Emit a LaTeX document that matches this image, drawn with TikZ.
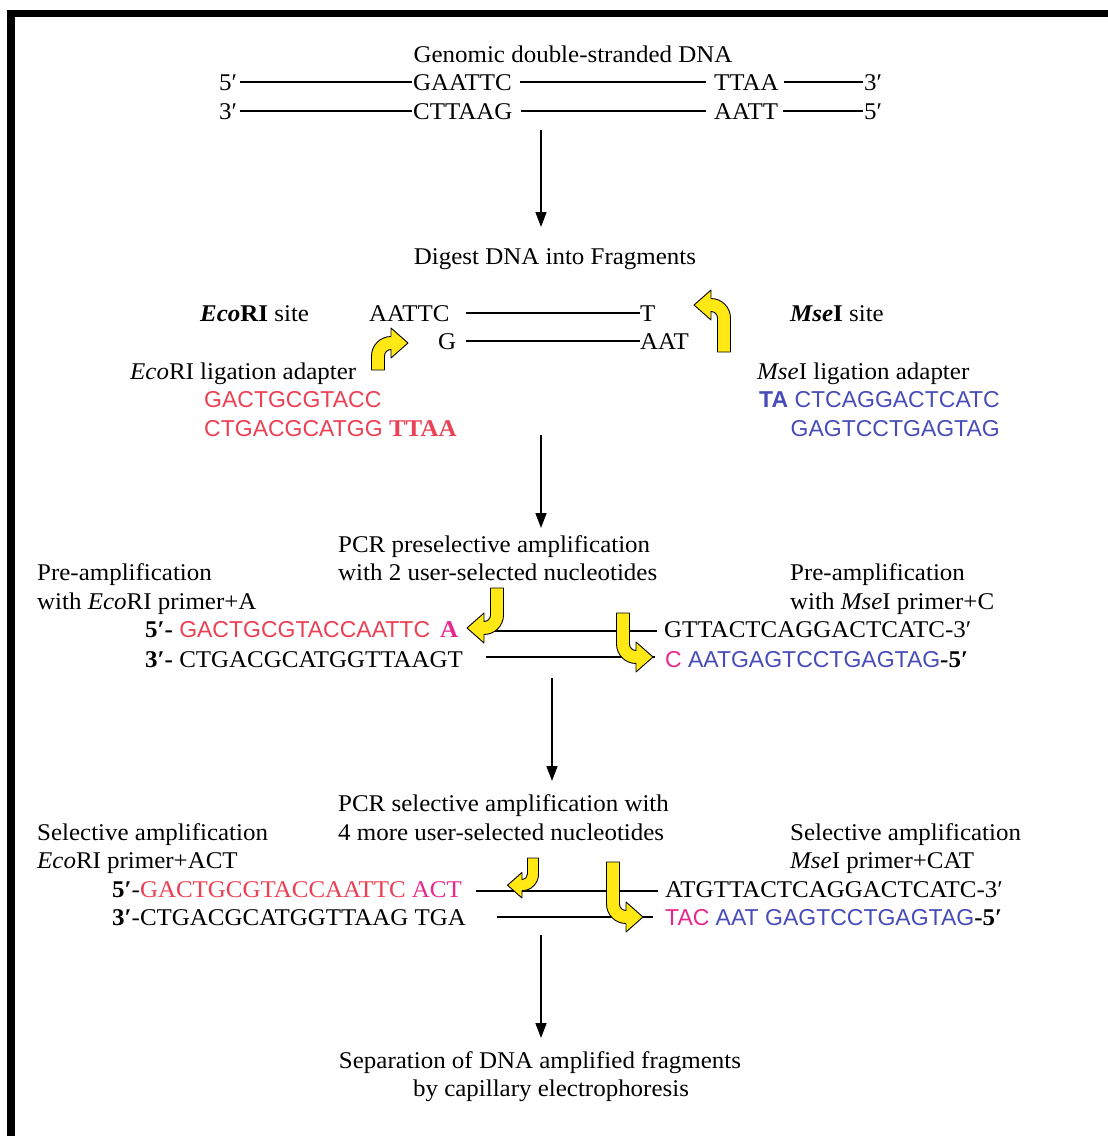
\documentclass[tikz,border=0pt]{standalone}
\usepackage{fontspec}
\setmainfont{Liberation Serif}[FakeStretch=1.04]
\setsansfont{Liberation Sans}
\usetikzlibrary{arrows.meta,calc}
\definecolor{seqred}{RGB}{236,64,84}
\definecolor{seqpink}{RGB}{232,40,140}
\definecolor{seqblue}{RGB}{72,76,184}
\definecolor{ayellow}{RGB}{255,232,20}
\newcommand\fs{\fontsize{24}{28}\selectfont}
\newcommand\sq{\fontsize{23}{28}\sffamily\selectfont}
\begin{document}
\begin{tikzpicture}[x=1pt,y=-1pt,
  t/.style={inner sep=0pt,anchor=base west,font=\fs},
  tc/.style={t,anchor=base},
  tr/.style={t,anchor=base east},
  strand/.style={line width=1.2pt},
  flow/.style={line width=1.5pt,-{Triangle[width=11pt,length=15pt]}},
  pics/bent/.style={code={
    \filldraw[fill=ayellow,draw=black,line width=0.9pt,line join=round]
      (-6.5,0) -- (6.5,0) -- (6.5,#1)
      .. controls (6.5,#1+10.77) and (-2.23,#1+19.5) .. (-13,#1+19.5)
      -- (-13,#1+28) -- (-30,#1+13) -- (-13,#1-2) -- (-13,#1+6.5)
      .. controls (-9.41,#1+6.5) and (-6.5,#1+3.59) .. (-6.5,#1) -- cycle;
  }}]
\useasboundingbox (0,0) rectangle (1108,1136);
\fill[white] (0,0) rectangle (1108,1136);
% frame
\fill[black] (7,10) rectangle (1108,17);
\fill[black] (7,10) rectangle (15,1136);

% ---------- genomic DNA ----------
\node[tc] (title) at (573,62) {Genomic double-stranded DNA};
\node[t] (r1a) at (219,90) {5′};
\node[t] (r1b) at (413,90) {GAATTC};
\node[t] (r1c) at (714,90) {TTAA};
\node[t] (r1d) at (864,90) {3′};
\node[t] (r2a) at (219,119) {3′};
\node[t] (r2b) at (413,119) {CTTAAG};
\node[t] (r2c) at (714,119) {AATT};
\node[t] (r2d) at (864,119) {5′};
\coordinate (y1) at (0,82);
\coordinate (y2) at (0,111);
\draw[strand] ($(r1a.east|-y1)+(3,0)$) -- ($(r1b.west|-y1)+(-1,0)$);
\draw[strand] ($(r1b.east|-y1)+(8,0)$) -- ($(r1c.west|-y1)+(-8,0)$);
\draw[strand] ($(r1c.east|-y1)+(5,0)$) -- ($(r1d.west|-y1)+(-1,0)$);
\draw[strand] ($(r2a.east|-y2)+(3,0)$) -- ($(r2b.west|-y2)+(-1,0)$);
\draw[strand] ($(r2b.east|-y2)+(8,0)$) -- ($(r2c.west|-y2)+(-8,0)$);
\draw[strand] ($(r2c.east|-y2)+(5,0)$) -- ($(r2d.west|-y2)+(-1,0)$);

\coordinate (v1a) at (541,130);
\coordinate (v1b) at (541,227);
\draw[flow] (v1a) -- (v1b);

% ---------- digestion ----------
\node[tc] (digest) at (555,264) {Digest DNA into Fragments};
\node[t] (ecosite) at (200,321) {\textbf{\textit{Eco}RI} site};
\node[t] (aattc) at (369,321) {AATTC};
\node[t] (tt) at (640,321) {T};
\node[t] (msesite) at (790,321) {\textbf{\textit{Mse}I} site};
\node[t] (gg) at (438,349) {G};
\node[t] (aat) at (640,349) {AAT};
\coordinate (y3) at (0,313);
\coordinate (y4) at (0,341);
\coordinate (ls) at (466,0);
\draw[strand] (ls|-y3) -- (tt.west|-y3);
\draw[strand] (ls|-y4) -- (aat.west|-y4);

\node[t] (ecoadapt) at (130,379) {\textit{Eco}RI ligation adapter};
\node[t] (mseadapt) at (757,379) {\textit{Mse}I ligation adapter};
\node[t] (ea1) at (204,407) {\sq\color{seqred}GACTGCGTACC};
\node[t] (ea2) at (204,436) {\sq\color{seqred}CTGACGCATGG {\rmfamily\fs\bfseries TTAA}};
\node[tr] (ma1) at (1000,407) {\sq\color{seqblue}\textbf{TA} CTCAGGACTCATC};
\node[tr] (ma2) at (1000,436) {\sq\color{seqblue}GAGTCCTGAGTAG};

\pic[xscale=-1,yscale=-1] at (378,370) {bent=14};
\pic[yscale=-1] at (724,352) {bent=34};

\coordinate (v2a) at (541,435);
\coordinate (v2b) at (541,528);
\draw[flow] (v2a) -- (v2b);

% ---------- preselective ----------
\node[t] (pcr1a) at (338,552) {PCR preselective amplification};
\node[t] (pcr1b) at (338,580) {with 2 user-selected nucleotides};
\node[t] (pl1) at (37,580) {Pre-amplification};
\node[t] (pl2) at (37,609) {with \textit{Eco}RI primer+A};
\node[t] (pr1) at (790,580) {Pre-amplification};
\node[t] (pr2) at (790,609) {with \textit{Mse}I primer+C};
\node[t] (p5) at (145,637) {\textbf{5′-} {\sq\color{seqred}GACTGCGTACCAATTC}\hspace{10pt}{\bfseries\color{seqpink}A}};
\node[t] (p3) at (145,667) {\textbf{3′-} CTGACGCATGGTTAAGT};
\node[t] (q5) at (664,637) {GTTACTCAGGACTCATC-3′};
\node[t] (q3) at (665,667) {{\sq\color{seqpink}C} {\sq\color{seqblue}AATGAGTCCTGAGTAG}\textbf{-5′}};
\coordinate (y5) at (0,631);
\coordinate (y6) at (0,657);
\draw[strand] ($(p5.east|-y5)+(26,0)$) -- ($(q5.west|-y5)+(-7,0)$);
\draw[strand] ($(p3.east|-y6)+(23,0)$) -- ($(q3.west|-y6)+(-10,0)$);
\pic at (497,588) {bent=27};
\pic[xscale=-1] at (623,613) {bent=31};

\coordinate (v3a) at (552,678);
\coordinate (v3b) at (552,781);
\draw[flow] (v3a) -- (v3b);

% ---------- selective ----------
\node[t] (pcr2a) at (338,811) {PCR selective amplification with};
\node[t] (pcr2b) at (338,840) {4 more user-selected nucleotides};
\node[t] (sl1) at (37,840) {Selective amplification};
\node[t] (sl2) at (37,868) {\textit{Eco}RI primer+ACT};
\node[t] (sr1) at (790,840) {Selective amplification};
\node[t] (sr2) at (790,868) {\textit{Mse}I primer+CAT};
\node[t] (s5) at (112,897) {\textbf{5′}-{\color{seqred}GACTGCGTACCAATTC} {\color{seqpink}ACT}};
\node[t] (s3) at (112,925) {\textbf{3′}-CTGACGCATGGTTAAG TGA};
\node[t] (u5) at (665,897) {ATGTTACTCAGGACTCATC-3′};
\node[t] (u3) at (665,925) {{\sq\color{seqpink}TAC} {\sq\color{seqblue}AAT GAGTCCTGAGTAG}\textbf{-5′}};
\coordinate (y7) at (0,891);
\coordinate (y8) at (0,917);
\draw[strand] ($(s5.east|-y7)+(14,0)$) -- ($(u5.west|-y7)+(-7,0)$);
\draw[strand] ($(s3.east|-y8)+(31,0)$) -- ($(u3.west|-y8)+(-12,0)$);
\pic[scale=0.85] at (533,858) {bent=19};
\pic[xscale=-1] at (613,862) {bent=42};

\coordinate (v4a) at (541,935);
\coordinate (v4b) at (541,1038);
\draw[flow] (v4a) -- (v4b);

\node[tc] (sep1) at (540,1068) {Separation of DNA amplified fragments};
\node[tc] (sep2) at (551,1096) {by capillary electrophoresis};
\end{tikzpicture}
\end{document}
